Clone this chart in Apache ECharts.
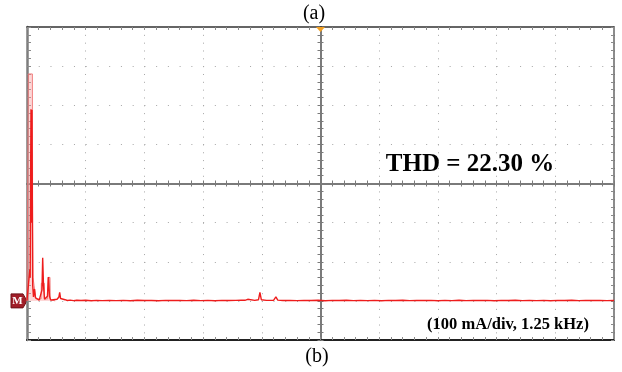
<!DOCTYPE html>
<html><head><meta charset="utf-8">
<script src="https://cdn.jsdelivr.net/npm/echarts@6/dist/echarts.min.js"></script>
<style>html,body{margin:0;padding:0;background:#fff}#c{width:622px;height:372px}</style>
</head><body><div id="c"></div>
<script>
// Frequency axis: 1.25 kHz/div, 10 divisions; current axis: 100 mA/div, 8 divisions
const xRange = [0, 12.5];
const xStep = 1.25;
const yRange = [-100, 700];
const yStep = 100;

// Main spectrum trace (kHz, mA)
const traceFreqKHz = [0.000,0.011,0.040,0.060,0.068,0.076,0.085,0.092,0.099,0.106,0.121,0.138,0.160,0.180,0.215,0.260,0.300,0.319,0.334,0.351,0.373,0.410,0.435,0.458,0.479,0.505,0.560,0.640,0.680,0.696,0.715,0.750,0.810,0.860,0.920,0.990,1.060,1.150,1.250,1.370,1.480,1.600,1.750,1.900,2.050,2.200,2.350,2.500,2.650,2.800,2.950,3.100,3.250,3.400,3.550,3.700,3.850,4.000,4.150,4.300,4.450,4.560,4.600,4.640,4.700,4.740,4.850,4.930,4.960,4.990,5.100,5.250,5.300,5.340,5.450,5.600,5.750,5.900,6.050,6.200,6.350,6.500,6.650,6.800,6.950,7.100,7.250,7.400,7.550,7.700,7.850,8.000,8.150,8.300,8.450,8.600,8.750,8.900,9.050,9.200,9.350,9.500,9.650,9.800,9.950,10.100,10.250,10.400,10.550,10.700,10.850,11.000,11.150,11.300,11.450,11.600,11.750,11.900,12.050,12.200,12.350,12.500];
const traceCurrentMA = [1,1,4,80,60,300,490,200,470,488,40,10,30,8,3,2,6,28,110,40,4,3,12,61,12,2,3,4,10,22,6,2,3,1,2,0.5,1.5,0.8,1.6,0.5,1.2,0.6,1.4,0.7,1.3,0.4,1.5,0.8,1.1,0.5,1.4,0.9,1.2,0.6,1.5,0.7,1.2,0.5,1.4,0.9,1.3,2,6,1.5,4,1,1.3,3,22,3,1.2,1.5,10,2,0.8,1.3,0.6,1.4,0.8,1.6,0.5,1.2,0.9,1.5,0.6,1.1,0.7,1.4,0.5,1.3,0.8,1.5,0.6,1.2,0.9,1.4,0.5,1.3,0.7,1.5,0.6,1.1,0.8,1.4,0.5,1.2,0.9,1.5,0.6,1.3,0.7,1.4,0.5,1.2,0.9,1.5,0.6,1.3,0.8,1.4,0.6,1.0];

// Persistence envelope (light trace) (kHz, mA)
const envFreqKHz = [0.000,0.024,0.028,0.115,0.120,0.128,0.150,0.190,0.300,0.305,0.370,0.375,0.440,0.445,0.490,0.495,0.600];
const envCurrentMA = [0,0,580,580,200,60,40,5,5,45,45,5,5,60,60,3,0];

// Texts
const titleTop = '(a)';
const titleBottom = '(b)';
const thdLabel = 'THD = 22.30 %';
const scaleLabel = '(100 mA/div, 1.25 kHz)';

const traceData = traceFreqKHz.map((f, i) => [f, traceCurrentMA[i]]);
const envData = envFreqKHz.map((f, i) => [f, envCurrentMA[i]]);

const dotColor = '#a6a6a6';
const tickColor = '#8a8a8a';
const crossColor = '#7a7a7a';
const serif = '"Liberation Serif", "Times New Roman", serif';

function borderAxisX(pos, showSplit, lineColor, lineWidth) {
  return {
    type: 'value', min: xRange[0], max: xRange[1], interval: xStep, position: pos,
    axisLine: { show: true, onZero: false, lineStyle: { color: lineColor, width: lineWidth } },
    axisTick: { show: true, inside: true, length: 3, lineStyle: { color: tickColor } },
    minorTick: { show: true, splitNumber: 5, length: 3, lineStyle: { color: tickColor } },
    axisLabel: { show: false },
    splitLine: { show: showSplit, lineStyle: { color: dotColor, width: 1, type: [1, 6.83] } }
  };
}
function borderAxisY(pos, showSplit, lineColor, lineWidth, tickLen) {
  return {
    type: 'value', min: yRange[0], max: yRange[1], interval: yStep, position: pos,
    axisLine: { show: true, onZero: false, lineStyle: { color: lineColor, width: lineWidth } },
    axisTick: { show: true, inside: true, length: tickLen, lineStyle: { color: tickColor } },
    minorTick: { show: true, splitNumber: 5, length: tickLen, lineStyle: { color: tickColor } },
    axisLabel: { show: false },
    splitLine: { show: showSplit, lineStyle: { color: dotColor, width: 1, type: [1, 10.74] } }
  };
}
function crossAxis(dimCount, inside, pos) {
  return {
    type: 'value', min: -dimCount, max: dimCount, interval: 1, position: pos,
    axisLine: { show: true, onZero: true, onZeroAxisIndex: 2, lineStyle: { color: crossColor, width: 2 } },
    axisTick: { show: true, inside: inside, length: 3, lineStyle: { color: crossColor } },
    axisLabel: { show: false },
    splitLine: { show: false }
  };
}

const chart = echarts.init(document.getElementById('c'), null, { renderer: 'canvas' });
chart.setOption({
  animation: false,
  backgroundColor: '#ffffff',
  grid: { left: 27, right: 8, top: 27, bottom: 32, containLabel: false, outerBoundsMode: 'none' },
  xAxis: [
    borderAxisX('bottom', true, '#222', 2),
    borderAxisX('top', false, '#333', 1.5),
    crossAxis(25, false, 'top'),
    crossAxis(25, true, 'top')
  ],
  yAxis: [
    borderAxisY('left', true, '#7d7d7d', 2.5, 4),
    borderAxisY('right', false, '#666', 1.5, 3),
    crossAxis(20, false, 'left'),
    crossAxis(20, true, 'left')
  ],
  series: [
    {
      type: 'line', xAxisIndex: 0, yAxisIndex: 0, data: envData, showSymbol: false, silent: true,
      lineStyle: { color: 'rgba(238,110,110,0.85)', width: 1 },
      areaStyle: { color: 'rgba(250,160,160,0.6)', origin: 0 }, z: 3
    },
    {
      type: 'line', xAxisIndex: 0, yAxisIndex: 0, data: traceData, showSymbol: false, silent: true,
      lineStyle: { color: '#ee1c1c', width: 1.4 }, z: 4
    }
  ]
});

const origin = chart.convertToPixel({ xAxisIndex: 0, yAxisIndex: 0 }, [xRange[0], 0]);
const topMid = chart.convertToPixel({ xAxisIndex: 0, yAxisIndex: 0 }, [(xRange[0] + xRange[1]) / 2, yRange[1]]);

chart.setOption({
  graphic: [
    { type: 'text', style: { text: titleTop, x: 314, y: 14, align: 'center', verticalAlign: 'middle', font: '20px ' + serif, fill: '#000' } },
    { type: 'text', style: { text: titleBottom, x: 317, y: 357, align: 'center', verticalAlign: 'middle', font: '20px ' + serif, fill: '#000' } },
    { type: 'text', z: 10, style: { text: thdLabel, x: 470, y: 165, align: 'center', verticalAlign: 'middle', font: 'bold 25px ' + serif, fill: '#000' } },
    { type: 'text', z: 10, style: { text: scaleLabel, x: 508, y: 325, align: 'center', verticalAlign: 'middle', font: 'bold 16.5px ' + serif, fill: '#000' } },
    {
      type: 'group', x: origin[0], y: origin[1], z: 20, children: [
        { type: 'polygon', shape: { points: [[-16, -7], [-4, -7], [0, 0], [-4, 7], [-16, 7]] }, style: { fill: '#a01e28', stroke: '#6e1218', lineWidth: 1 } },
        { type: 'text', style: { text: 'M', x: -9.5, y: 0.5, align: 'center', verticalAlign: 'middle', font: 'bold 11px ' + serif, fill: '#fff' } }
      ]
    },
    {
      type: 'polygon', z: 20, x: topMid[0], y: topMid[1],
      shape: { points: [[-4.5, 0], [4.5, 0], [0, 5]] }, style: { fill: '#f2a024' }
    }
  ]
});
</script>
</body></html>
